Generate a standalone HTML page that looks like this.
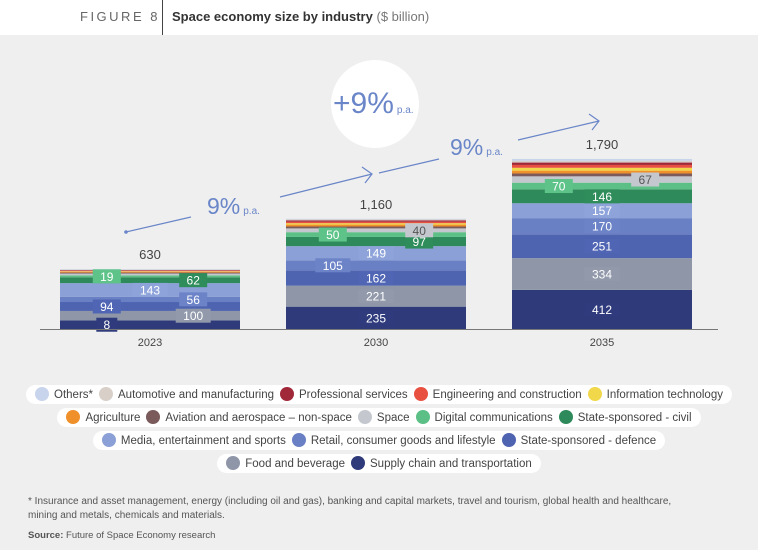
<!DOCTYPE html>
<html><head><meta charset="utf-8">
<style>
body{margin:0;width:758px;height:550px;background:#efefef;font-family:"Liberation Sans",sans-serif;overflow:hidden;position:relative}
.hdr{position:absolute;left:0;top:0;width:758px;height:35px;background:#fff}
.fig{position:absolute;left:80px;top:9px;font-size:13px;letter-spacing:2.5px;color:#666}
.vl{position:absolute;left:162px;top:0;width:1px;height:35px;background:#444}
.ttl{position:absolute;left:172px;top:9px;font-size:13px;color:#333}
.leg{position:absolute;left:0;width:758px;text-align:center;font-size:11.5px;color:#444}
.pill{display:inline-block;background:#fff;border-radius:10px;padding:2px 6px;height:15px;line-height:15px}
.it{display:inline-block;margin:0 3px}
.dot{display:inline-block;width:14px;height:14px;border-radius:50%;vertical-align:-3px;margin-right:5px}
.foot{position:absolute;left:28px;font-size:10px;color:#555;line-height:14px}
</style></head><body>
<div class="hdr"></div>
<div class="fig">FIGURE 8</div>
<div class="vl"></div>
<div class="ttl"><b>Space economy size by industry</b> <span style="color:#777">($ billion)</span></div>
<svg id="chart" width="758" height="370" style="position:absolute;left:0;top:0"></svg>
<div id="legend"></div>
<div class="foot" style="top:495px">* Insurance and asset management, energy (including oil and gas), banking and capital markets, travel and tourism, global health and healthcare,<br>mining and metals, chemicals and materials.</div>
<div class="foot" style="top:529px;font-size:9.5px"><b>Source:</b> Future of Space Economy research</div>
<script>
const years=["2023","2030","2035"];
const totals=["630","1,160","1,790"];
const seriesNames=["Supply chain and transportation","Food and beverage","State-sponsored - defence","Retail, consumer goods and lifestyle","Media, entertainment and sports","State-sponsored - civil","Digital communications","Space","Aviation and aerospace – non-space","Agriculture","Information technology","Engineering and construction","Professional services","Automotive and manufacturing","Others*"];
const colors=["#2e3a7a","#8e96a8","#4e64b0","#6a80c4","#8aa0d6","#2e8a5a","#5cbf86","#c4c8ce","#7a5a5a","#f0902a","#f0d84a","#e85040","#a02838","#d8d0c8","#c8d4ec"];
const v2023=[90,100,94,56,143,62,19,20,10,8,6,6,6,5,5];
const v2030=[235,221,162,105,149,97,50,40,20,20,15,15,15,10,6];
const v2035=[412,334,251,170,157,146,70,67,30,30,30,30,25,18,20];
const printed2023=["8","100","94","56","143","62","19","","","","","","","",""];
const printed2030=["235","221","162","105","149","97","50","40","","","","","","",""];
const printed2035=["412","334","251","170","157","146","70","67","","","","","","",""];
const labelPos2023=[0.26,0.74,0.26,0.74,0.5,0.74,0.26,0,0,0,0,0,0,0,0];
const labelPos2030=[0.5,0.5,0.5,0.26,0.5,0.74,0.26,0.74,0,0,0,0,0,0,0];
const labelPos2035=[0.5,0.5,0.5,0.5,0.5,0.5,0.26,0.74,0,0,0,0,0,0,0];
const values=[v2023,v2030,v2035], printed=[printed2023,printed2030,printed2035], lpos=[labelPos2023,labelPos2030,labelPos2035];
const NS="http://www.w3.org/2000/svg", svg=document.getElementById('chart');
const base=329, barW=180, barX=i=>60+i*226, yS=v=>v*0.095;
function mk(t,a){const e=document.createElementNS(NS,t);for(const k in a)e.setAttribute(k,a[k]);svg.appendChild(e);return e;}
function shade(c,f){const n=parseInt(c.slice(1),16);let r=n>>16,g=n>>8&255,b=n&255;r=Math.round(r*f);g=Math.round(g*f);b=Math.round(b*f);return `rgb(${Math.min(r,255)},${Math.min(g,255)},${Math.min(b,255)})`;}
years.forEach((yr,i)=>{
  let y=base;const x=barX(i);
  const segs=[];
  values[i].forEach((v,s)=>{
    const h=yS(v);y-=h;
    const r=mk('rect',{x:x,y:y,width:barW,height:h,fill:colors[s]});
    
    
    segs.push([y,h]);
  });
  values[i].forEach((v,s)=>{
    const t=printed[i][s]; if(!t)return;
    const cy=segs[s][0]+segs[s][1]/2, cx=x+barW*lpos[i][s];
    const w=t.length*7+14, dark=s===7;
    const bg=mk('rect',{x:cx-w/2,y:cy-7,width:w,height:14,fill:dark?"#c4c8ce":shade(colors[s],1.02)});
    
    
    const tx=mk('text',{x:cx,y:cy+4.5,'text-anchor':'middle','font-size':12,fill:dark?"#555":"#fff"});
    tx.textContent=t;
    
    
  });
  const tot=mk('text',{x:x+barW/2,y:y-10,'text-anchor':'middle','font-size':13,fill:'#444'});
  tot.textContent=totals[i];
  
  
  const yl=mk('text',{x:x+barW/2,y:346,'text-anchor':'middle','font-size':11,fill:'#444'});
  yl.textContent=yr;
  
  
});
const ax=mk('line',{x1:40,y1:base+0.5,x2:718,y2:base+0.5,stroke:'#777','stroke-width':1});


// growth annotations
const circ=mk('circle',{cx:375,cy:104,r:44,fill:'#fff'});


const ct=mk('text',{x:333,y:113,'font-size':30,fill:'#6a86c8'});
ct.innerHTML='+9%<tspan font-size="10" dx="3">p.a.</tspan>';


const st='#6a86c8';
[[126,232,191,217],[280,197,372,174],[379,173,439,159],[518,140,599,121]].forEach((l,k)=>{
  const ln=mk('line',{x1:l[0],y1:l[1],x2:l[2],y2:l[3],stroke:st,'stroke-width':1.2});
  
  
});
mk('circle',{cx:126,cy:232,r:1.8,fill:st});
[[372,174],[599,121]].forEach((p,k)=>{
  const a=mk('polyline',{points:`${p[0]-10},${p[1]-7} ${p[0]},${p[1]} ${p[0]-7},${p[1]+9}`,fill:'none',stroke:st,'stroke-width':1.2});
  
  
});
[[207,214],[450,155]].forEach((p,k)=>{
  const t=mk('text',{x:p[0],y:p[1],'font-size':23,fill:'#6a86c8'});
  t.innerHTML='9%<tspan font-size="10" dx="3">p.a.</tspan>';
  
  
});
// legend
const rows=[[14,13,12,11,10],[9,8,7,6,5],[4,3,2],[1,0]];
const rowTops=[385,408,431,454];
const legend=document.getElementById('legend');
rows.forEach((r,ri)=>{
  const d=document.createElement('div');d.className='leg';d.style.top=rowTops[ri]+'px';
  
  
  const p=document.createElement('span');p.className='pill';
  
  
  r.forEach(s=>{
    const it=document.createElement('span');it.className='it';
    
    
    it.innerHTML=`<span class="dot" style="background:${colors[s]}"></span>${seriesNames[s]}`;
    p.appendChild(it);
  });
  d.appendChild(p);legend.appendChild(d);
});
</script>
</body></html>
